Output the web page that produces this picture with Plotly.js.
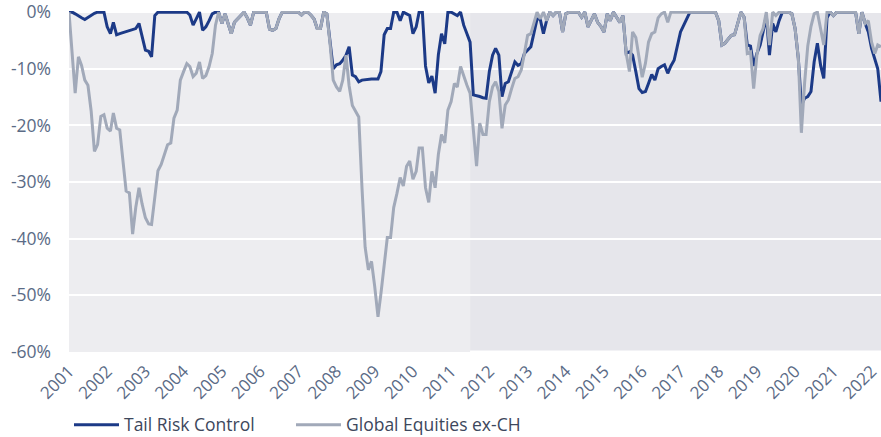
<!DOCTYPE html>
<html>
<head>
<meta charset="utf-8">
<script src="https://cdn.plot.ly/plotly-3.0.1.min.js"></script>
<style>html,body{margin:0;padding:0;background:#fff;}#chart{width:881px;height:437px;}</style>
</head>
<body>
<div id="chart"></div>
<script>
// Monthly drawdowns (%), Jan 2001 .. Apr 2022, one row per year
const tailRiskControl = [
  0, 0, -0.3, -0.7, -1, -1.3, -0.9, -0.5, -0.2, 0, 0, 0,
  -2.6, -3.8, -1.8, -4, -3.8, -3.6, -3.4, -3.2, -3, -2.9, -2, -4.1,
  -6.7, -6.9, -7.9, -0.6, 0, 0, 0, 0, 0, 0, 0, 0,
  0, 0, -0.5, -2.3, -1.2, 0, -3.2, -2.6, -1.5, -0.3, 0, 0,
  -2, -0.3, -2, -3.8, -1.8, -1.2, -0.5, 0, -1, -2.3, 0, 0,
  0, 0, 0, -3, -3.2, -2.9, -1.2, 0, 0, 0, 0, 0,
  0, -0.5, 0, 0, -0.5, -1.2, -2.9, -2.9, 0, -0.3, -5.6, -10,
  -9.3, -9.1, -8.5, -7.6, -6.1, -11.1, -11.4, -12.3, -12, -11.9, -11.8, -11.8,
  -11.8, -11.8, -10.5, -4, -2.9, -2.9, 0, 0, -1.5, 0, -0.3, -0.6,
  -3.8, -2.6, 0, 0, -9.5, -12.5, -11.3, -14.3, -7.5, -3.8, -5.6, 0,
  0, -0.3, -0.6, 0, -2.3, -3.8, -5.3, -14.6, -14.7, -14.9, -15.1, -15.2,
  -10.5, -7.6, -6.4, -7.6, -14.9, -12.6, -12.3, -10.5, -8.8, -9.4, -9.1, -7.3,
  -6.7, -6.1, -3.8, -1.2, -1.2, -3.8, -1.5, 0, -0.6, 0, 0, -3.5,
  -0.3, 0, 0, 0, 0, -0.9, 0, -2.6, -1.5, -0.3, -1.8, -2.5,
  -3.5, -0.3, -1.5, 0, -0.9, -1.8, -0.6, -7.3, -7, -7.6, -10.5, -13.5,
  -14.2, -14, -12.6, -11, -12, -10, -9.6, -9.3, -10.8, -9.5, -8.5, -6,
  -3.5, -2.3, -1.2, 0, 0, 0, 0, 0, 0, 0, 0, 0,
  -1.5, -5.8, -5.5, -4.7, -4.1, -4, -1.8, 0, -0.9, -5.8, -6, -9.5,
  -7.3, -5.8, -3.5, -0.6, -7.6, -2, -3.5, -1.5, 0, 0, 0, -0.3,
  -2.9, -8.2, -16.4, -15.2, -14.9, -14, -8.8, -5.5, -9.4, -11.7, -1, 0,
  -0.6, 0, 0, 0, 0, 0, 0, 0, -3.8, 0, -2, -3.5,
  -6.4, -8.5, -10, -15.8
];
const globalEquitiesExCH = [
  0, -7, -14.3, -7.9, -9.4, -12, -12.9, -17.5, -24.6, -23.4, -18.4, -18.1,
  -20.5, -21, -17.8, -20.5, -20.8, -26.3, -31.6, -31.9, -39.2, -34.5, -31, -33.9,
  -36.3, -37.4, -37.5, -32.7, -28, -26.9, -25.1, -23.4, -23.1, -18.7, -17.3, -12,
  -10.5, -9.1, -9.6, -11.4, -10.8, -8.8, -11.7, -11.2, -9.6, -7.3, -2.3, 0,
  -2, -0.3, -2, -3.8, -1.8, -1.2, -0.5, 0, -1, -2.3, 0, 0,
  0, 0, 0, -3, -3.2, -2.9, -1.2, 0, 0, 0, 0, 0,
  0, -0.5, 0, 0, -0.5, -1.2, -2.9, -2.9, 0, -0.3, -5.6, -12,
  -13.2, -14, -12, -7.6, -13, -16.5, -17.5, -18.5, -31, -41.5, -45.5, -44,
  -48.5, -53.8, -49.7, -44, -39.8, -39.8, -34.5, -32, -29.2, -30.7, -27.2, -26.3,
  -29.5, -28.1, -24, -24, -31, -33.6, -28.1, -31, -25.1, -21.6, -23.1, -17.3,
  -15.8, -12.6, -13.2, -9.6, -11.4, -12.9, -14.3, -20.5, -27.2, -19.6, -21.6, -21.6,
  -15.8, -13.2, -12.3, -14, -20.5, -16.4, -15.5, -13.5, -11.7, -11.4, -10.2, -7.3,
  -4.1, -3.8, -1.8, 0, -1.2, 0, -1.5, 0, -0.6, 0, 0, -3.5,
  -0.3, 0, 0, 0, 0, -0.9, 0, -2.6, -1.5, -0.3, -1.8, -2.5,
  -3.5, -0.3, -1.5, 0, -0.9, -1.8, -0.6, -7.3, -10.5, -3.5, -4.5, -8,
  -11.5, -9, -5.3, -3.8, -3.5, -1, -0.3, 0, -1.8, 0, 0, 0,
  0, 0, 0, 0, 0, 0, 0, 0, 0, 0, 0, 0,
  -1.5, -5.8, -5.5, -4.7, -4.1, -4, -1.8, 0, -0.9, -7.3, -7, -13.5,
  -7.6, -4.1, -2.9, 0, -5.8, 0, -0.6, 0, 0, 0, 0, -0.3,
  -2.9, -8.2, -21.3, -12.5, -6, -2.5, -0.3, 0, -2.9, -5.8, 0, 0,
  -0.6, 0, 0, 0, 0, 0, 0, 0, -3.8, 0, -2, -1.5,
  -5.3, -7.3, -5.8, -6.1
];
const startYear = 2001;
const yearLabels = ['2001','2002','2003','2004','2005','2006','2007','2008','2009','2010','2011',
  '2012','2013','2014','2015','2016','2017','2018','2019','2020','2021','2022'];
const yTickValues = [-60, -50, -40, -30, -20, -10, 0];
const yTickLabels = ['-60%', '-50%', '-40%', '-30%', '-20%', '-10%', '0%'];
const seriesNames = ['Tail Risk Control', 'Global Equities ex-CH'];
const periodSplit = '2011-07-01';

const dates = tailRiskControl.map((_, i) => {
  const y = startYear + Math.floor(i / 12);
  const m = (i % 12) + 1;
  return y + '-' + String(m).padStart(2, '0') + '-01';
});
const lastDate = dates[dates.length - 1];

const traces = [
  {x: dates, y: tailRiskControl, name: seriesNames[0], type: 'scatter', mode: 'lines',
   line: {color: '#1c3a87', width: 3}, legend: 'legend'},
  {x: dates, y: globalEquitiesExCH, name: seriesNames[1], type: 'scatter', mode: 'lines',
   line: {color: '#a1a9b9', width: 3}, legend: 'legend2'}
];

const legendBase = {orientation: 'h', xanchor: 'left', xref: 'paper',
  y: 0.028, yref: 'container', yanchor: 'middle',
  font: {size: 17.5, color: '#3d475c'}, itemwidth: 45, bgcolor: 'rgba(0,0,0,0)'};

const layout = {
  width: 881, height: 437,
  margin: {l: 69, r: 0, t: 11, b: 85, autoexpand: false},
  paper_bgcolor: '#ffffff', plot_bgcolor: '#ffffff',
  font: {family: 'Open Sans, sans-serif', color: '#5b6b86'},
  showlegend: true,
  legend: Object.assign({}, legendBase, {x: 0}),
  legend2: Object.assign({}, legendBase, {x: 0.2734}),
  xaxis: {type: 'date', range: [dates[0], lastDate],
    tickvals: yearLabels.map(y => y + '-01-01'), ticktext: yearLabels,
    tickangle: -45, tickfont: {size: 17, color: '#5b6b86'},
    showgrid: false, zeroline: false, showline: false, ticks: '', ticklabelstandoff: 5,
    automargin: false, ticklabeloverflow: 'allow'},
  yaxis: {range: [-60, 0.2], tickvals: yTickValues, ticktext: yTickLabels,
    tickfont: {size: 17.5, color: '#5b6b86'},
    showgrid: true, gridcolor: '#ffffff', gridwidth: 2, zeroline: false, showline: false,
    ticks: '', ticklabelstandoff: 17, automargin: false, ticklabeloverflow: 'allow'},
  shapes: [
    {type: 'rect', xref: 'x', yref: 'y', x0: dates[0], x1: periodSplit, y0: -60, y1: 0,
     fillcolor: '#ededf0', line: {width: 0}, layer: 'below'},
    {type: 'rect', xref: 'x', yref: 'y', x0: periodSplit, x1: lastDate, y0: -59.75, y1: 0,
     fillcolor: '#e6e6eb', line: {width: 0}, layer: 'below'}
  ]
};

Plotly.newPlot('chart', traces, layout, {displayModeBar: false, staticPlot: true});
</script>
</body>
</html>
